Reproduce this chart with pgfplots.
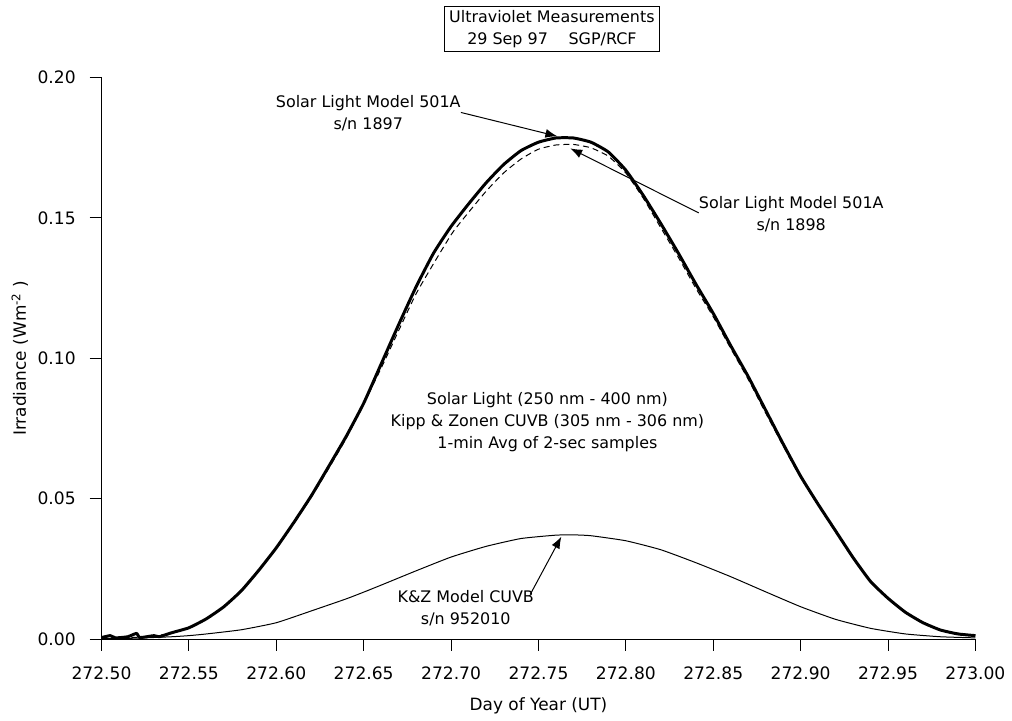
\documentclass[border=0pt]{standalone}
\usepackage{pgfplots}
\pgfplotsset{compat=1.18}
\usepackage{fontspec}
\setmainfont{DejaVu Sans}
\usetikzlibrary{arrows.meta}

\pgfplotstableread{
x y
272.500 0.0005
272.505 0.0012
272.508 0.0004
272.515 0.0008
272.520 0.0020
272.522 0.0005
272.530 0.0012
272.533 0.0008
272.540 0.0022
272.550 0.0040
272.560 0.0072
272.570 0.0115
272.580 0.0172
272.590 0.0245
272.600 0.0325
272.610 0.0415
272.620 0.0510
272.630 0.0615
272.640 0.0722
272.650 0.0840
272.660 0.0980
272.670 0.1120
272.680 0.1255
272.690 0.1375
272.700 0.1470
272.710 0.1550
272.720 0.1625
272.730 0.1690
272.740 0.1740
272.750 0.1770
272.760 0.1785
272.770 0.1785
272.780 0.1770
272.790 0.1735
272.800 0.1670
272.810 0.1580
272.820 0.1480
272.830 0.1375
272.840 0.1265
272.850 0.1160
272.860 0.1045
272.870 0.0935
272.880 0.0815
272.890 0.0695
272.900 0.0580
272.910 0.0480
272.920 0.0385
272.930 0.0290
272.940 0.0205
272.950 0.0145
272.960 0.0095
272.970 0.0058
272.980 0.0032
272.990 0.0018
273.000 0.0012
}\snA

\pgfplotstableread{
x y
272.500 0.0004
272.520 0.0006
272.540 0.0020
272.560 0.0070
272.580 0.0170
272.600 0.0322
272.620 0.0505
272.640 0.0715
272.660 0.0965
272.680 0.1230
272.700 0.1440
272.710 0.1520
272.720 0.1595
272.730 0.1660
272.740 0.1710
272.750 0.1745
272.760 0.1760
272.770 0.1762
272.780 0.1750
272.790 0.1720
272.800 0.1660
272.810 0.1570
272.820 0.1465
272.830 0.1360
272.840 0.1250
272.850 0.1148
272.860 0.1035
272.870 0.0925
272.880 0.0805
272.890 0.0688
272.900 0.0575
272.920 0.0382
272.940 0.0203
272.960 0.0094
272.980 0.0032
273.000 0.0012
}\snB

\pgfplotstableread{
x y
272.500 0.0001
272.520 0.0003
272.540 0.0008
272.550 0.0012
272.560 0.0018
272.580 0.0033
272.600 0.0058
272.620 0.0100
272.640 0.0143
272.650 0.0167
272.660 0.0192
272.680 0.0243
272.700 0.0292
272.720 0.0330
272.740 0.0358
272.760 0.0370
272.770 0.0371
272.780 0.0368
272.800 0.0350
272.820 0.0318
272.840 0.0272
272.860 0.0222
272.880 0.0168
272.900 0.0115
272.920 0.0070
272.940 0.0038
272.960 0.0018
272.980 0.0008
273.000 0.0004
}\kz

\begin{document}
\begin{tikzpicture}[ann/.style={font=\fontsize{8}{11}\selectfont, align=center}]
\begin{axis}[
  name=ax,
  scale only axis,
  width=439pt, height=282pt,
  xmin=272.5, xmax=273.0, ymin=0, ymax=0.2,
  axis x line=bottom, axis y line=left,
  axis line style={-, line width=0.5pt},
  tick align=outside,
  major tick length=6pt,
  tick style={line width=0.5pt, black},
  xtick={272.5,272.55,272.6,272.65,272.7,272.75,272.8,272.85,272.9,272.95,273.0},
  xticklabels={272.50,272.55,272.60,272.65,272.70,272.75,272.80,272.85,272.90,272.95,273.00},
  ytick={0,0.05,0.1,0.15,0.2},
  yticklabels={0.00,0.05,0.10,0.15,0.20},
  /pgf/number format/assume math mode=true,
  every tick label/.append style={font=\fontsize{8.6}{10}\selectfont},
  xticklabel style={yshift=-4.5pt},
  yticklabel style={xshift=-3.5pt},
  xlabel={Day of Year (UT)},
  ylabel={Irradiance (Wm\textsuperscript{-2} )},
  xlabel style={at={(axis description cs:0.5,-0.119)}, anchor=center, font=\fontsize{8.5}{10}\selectfont},
  ylabel style={at={(axis description cs:-0.0934,0.5)}, anchor=center, font=\fontsize{8.5}{10}\selectfont},
  clip=false,
]
\addplot[black, line width=0.5pt, dash pattern=on 3pt off 2pt, smooth, tension=0.3] table {\snB};
\addplot[black, line width=0.5pt, smooth, tension=0.3] table {\kz};
\addplot[black, line width=1.5pt, line join=round, smooth, tension=0.3] table {\snA};

\node[ann, draw, line width=0.5pt, inner xsep=2.5pt, inner ysep=2pt] at (axis cs:272.7577,0.2174)
  {Ultraviolet Measurements\\29 Sep 97\hspace{1.3em}SGP/RCF};

\node[ann] at (axis cs:272.6526,0.1872) {Solar Light Model 501A\\s/n 1897};
\draw[line width=0.5pt, -{Latex[length=6pt,width=4.5pt]}] (axis cs:272.7056,0.1876) -- (axis cs:272.7608,0.1791);

\node[ann] at (axis cs:272.8946,0.1514) {Solar Light Model 501A\\s/n 1898};
\draw[line width=0.5pt, -{Latex[length=6pt,width=4.5pt]}] (axis cs:272.8417,0.1518) -- (axis cs:272.7682,0.1748);

\node[ann] at (axis cs:272.7551,0.0773) {Solar Light (250 nm - 400 nm)\\Kipp \& Zonen CUVB (305 nm - 306 nm)\\1-min Avg of 2-sec samples};

\node[ann] at (axis cs:272.7084,0.0110) {K\&Z Model CUVB\\s/n 952010};
\draw[line width=0.5pt, -{Latex[length=6pt,width=4.5pt]}] (axis cs:272.7454,0.0160) -- (axis cs:272.7631,0.0365);
\end{axis}
\path[use as bounding box] ([xshift=-51pt,yshift=-37.5pt]ax.south west) rectangle ([xshift=16pt,yshift=39pt]ax.north east);
\end{tikzpicture}
\end{document}
